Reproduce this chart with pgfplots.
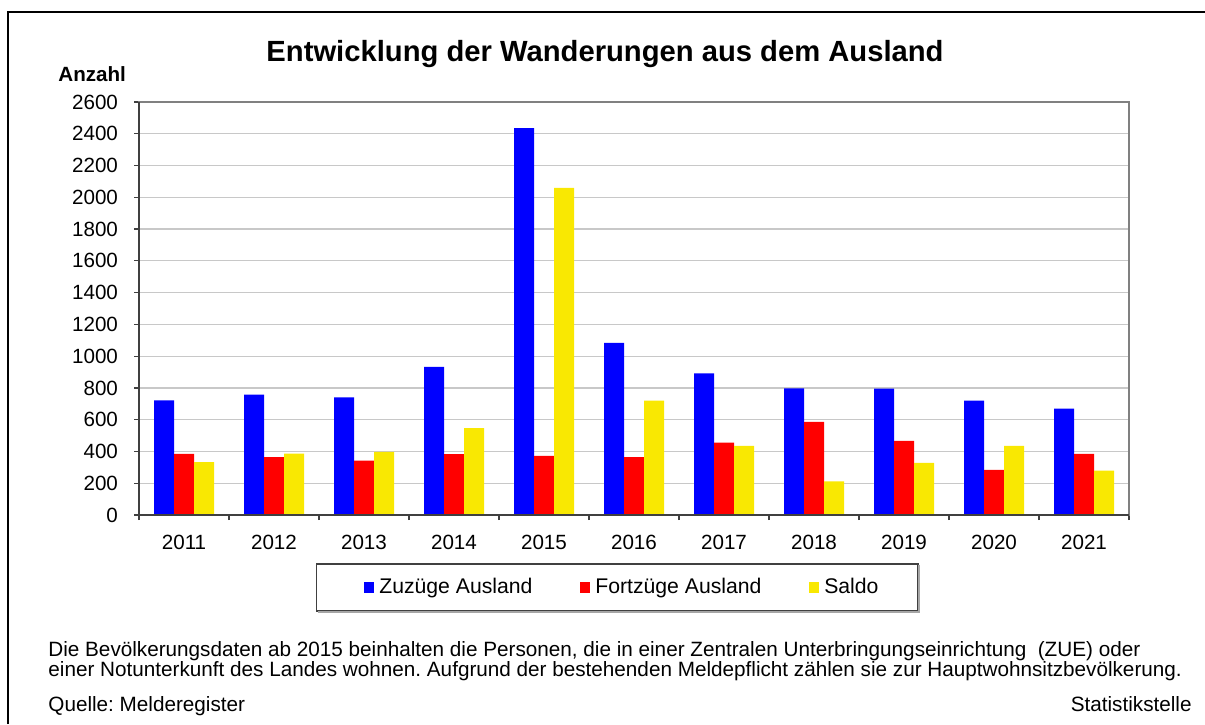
\documentclass[border=0pt]{standalone}
\usepackage{fontspec}
\setmainfont{Liberation Sans}
\usepackage{pgfplots}
\pgfplotsset{compat=1.18}
\definecolor{cblue}{RGB}{0,0,255}
\definecolor{cred}{RGB}{255,0,0}
\definecolor{cyel}{RGB}{249,232,2}
\definecolor{gridc}{RGB}{200,200,200}
\definecolor{boxc}{RGB}{128,128,128}
\definecolor{axc}{RGB}{64,64,64}
\frenchspacing
\begin{document}
\begin{tikzpicture}
\begin{scope}[x=0.5pt,y=-0.5pt]
\useasboundingbox (0,0) rectangle (1205,724);
\draw[line width=1pt] (8,724) -- (8,12) -- (1205,12);
\end{scope}
\begin{axis}[
  at={(69.5pt,-257.5pt)}, anchor=south west,
  scale only axis, width=495pt, height=206.5pt,
  ybar=0pt, bar width=10pt,
  xmin=-0.5, xmax=10.5, ymin=0, ymax=2600,
  xtick={0,...,10},
  xticklabels={2011,2012,2013,2014,2015,2016,2017,2018,2019,2020,2021},
  minor xtick={-0.5,0.5,...,10.5},
  ytick={0,200,...,2600},
  tick pos=left, tick align=outside,
  major tick length=2.5pt, minor tick length=2.5pt,
  major x tick style={draw=none},
  minor x tick style={draw=axc, line width=0.6pt},
  major y tick style={draw=axc, line width=0.6pt},
  ymajorgrids, grid style={draw=gridc, line width=0.6pt},
  axis line style={draw=boxc, line width=1pt},
  /pgf/number format/assume math mode=true,
  /pgf/number format/1000 sep={},
  ticklabel style={font=\fontsize{10.3}{12}\selectfont},
  yticklabel style={xshift=-4.5pt},
  xticklabel style={yshift=-4pt},
  legend columns=3,
  legend style={at={(0.4869,-0.1755)}, anchor=center, draw=none, fill=none,
    font=\fontsize{10.6}{12}\selectfont,
    /tikz/every odd column/.append style={column sep=2.5pt},
    /tikz/every even column/.append style={column sep=23.5pt},
    nodes={inner sep=0pt}},
  legend image code/.code={\fill[#1] (0pt,-2.7pt) rectangle (5.4pt,2.7pt);},
  clip=false,
]
\addplot[fill=cblue, draw=none] coordinates {(0,722) (1,758) (2,741) (3,933) (4,2436) (5,1084) (6,891) (7,798) (8,796) (9,720) (10,669)};
\addplot[fill=cred, draw=none] coordinates {(0,385) (1,364) (2,343) (3,383) (4,373) (5,364) (6,455) (7,587) (8,467) (9,284) (10,385)};
\addplot[fill=cyel, draw=none] coordinates {(0,333) (1,387) (2,398) (3,547) (4,2059) (5,720) (6,436) (7,211) (8,328) (9,436) (10,280)};
\legend{Zuzüge Ausland,Fortzüge Ausland,Saldo}
\draw[axc, line width=1pt] (rel axis cs:0,1) -- (rel axis cs:0,0) -- (rel axis cs:1,0);
\end{axis}
\begin{scope}[x=0.5pt,y=-0.5pt]
\draw[draw=black!75, line width=0.6pt] (316.5,564) rectangle (918,611);
\draw[draw=black!35, line width=0.6pt] (919,565) -- (919,612) -- (317.5,612);
\node[anchor=base, font=\fontsize{14.6}{16}\selectfont\bfseries, inner sep=0pt] at (605,61) {Entwicklung der Wanderungen aus dem Ausland};
\node[anchor=base west, font=\fontsize{10.3}{12}\selectfont\bfseries, inner sep=0pt] at (58,81) {Anzahl};
\node[anchor=base west, font=\fontsize{10.35}{12}\selectfont, inner sep=0pt] at (48,656) {Die Bevölkerungsdaten ab 2015 beinhalten die Personen, die in einer Zentralen Unterbringungseinrichtung \ (ZUE) oder};
\node[anchor=base west, font=\fontsize{10.35}{12}\selectfont, inner sep=0pt] at (48,676.7) {einer Notunterkunft des Landes wohnen. Aufgrund der bestehenden Meldepflicht zählen sie zur Hauptwohnsitzbevölkerung.};
\node[anchor=base west, font=\fontsize{10.35}{12}\selectfont, inner sep=0pt] at (48,711.5) {Quelle: Melderegister};
\node[anchor=base east, font=\fontsize{10.35}{12}\selectfont, inner sep=0pt] at (1192,711.5) {Statistikstelle};
\end{scope}
\end{tikzpicture}
\end{document}
